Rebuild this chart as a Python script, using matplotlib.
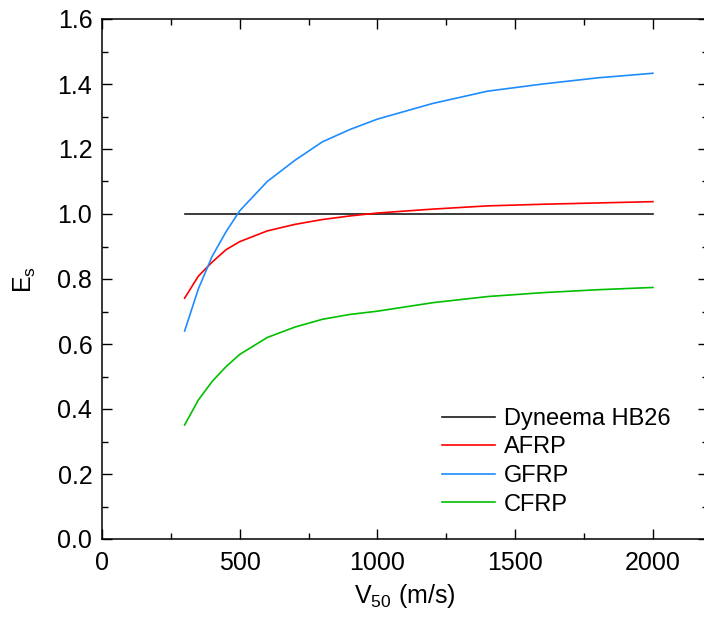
import matplotlib
matplotlib.use("Agg")
import matplotlib.pyplot as plt
from matplotlib.ticker import MultipleLocator, FormatStrFormatter

plt.rcParams['font.family'] = ['Liberation Sans', 'DejaVu Sans']
plt.rcParams['mathtext.fontset'] = 'custom'
plt.rcParams['mathtext.rm'] = 'Liberation Sans'
plt.rcParams['mathtext.it'] = 'Liberation Sans'

v50 = [300, 350, 400, 450, 500, 600, 700, 800, 900, 1000, 1200, 1400, 1600, 1800, 2000]
dyneema = [1.0] * len(v50)
afrp = [0.741, 0.809, 0.852, 0.890, 0.915, 0.948, 0.968, 0.983, 0.994, 1.003, 1.015, 1.025, 1.030, 1.034, 1.038]
gfrp = [0.640, 0.770, 0.870, 0.945, 1.010, 1.100, 1.165, 1.222, 1.260, 1.292, 1.340, 1.378, 1.400, 1.419, 1.433]
cfrp = [0.351, 0.428, 0.485, 0.530, 0.568, 0.620, 0.652, 0.676, 0.691, 0.701, 0.727, 0.746, 0.758, 0.767, 0.774]

fig = plt.figure(figsize=(7.04, 6.17), dpi=100)
W, H = 704, 617
ax = fig.add_axes([102 / W, (H - 539) / H, (708 - 102) / W, (539 - 19) / H])

lw = 1.2
ax.plot(v50, dyneema, color='#1a1a1a', lw=lw, label='Dyneema HB26')
ax.plot(v50, afrp, color='#ff0000', lw=lw, label='AFRP')
ax.plot(v50, gfrp, color='#1e8cff', lw=lw, label='GFRP')
ax.plot(v50, cfrp, color='#00c000', lw=lw, label='CFRP')

ax.set_xlim(0, 2200)
ax.set_ylim(0, 1.6)
ax.xaxis.set_major_locator(MultipleLocator(500))
ax.xaxis.set_minor_locator(MultipleLocator(250))
ax.yaxis.set_major_locator(MultipleLocator(0.2))
ax.yaxis.set_minor_locator(MultipleLocator(0.1))
ax.yaxis.set_major_formatter(FormatStrFormatter('%.1f'))
ax.tick_params(which='both', direction='in', top=True, right=True, labelsize=18, width=1)
ax.tick_params(which='major', length=7)
ax.tick_params(which='minor', length=4)
ax.tick_params(axis='y', which='major', pad=7)
ax.tick_params(axis='x', which='major', pad=9)
for s in ax.spines.values():
    s.set_linewidth(1.1)
ax.spines['right'].set_visible(False)

ax.set_xlabel('V$_{50}$ (m/s)', fontsize=18, labelpad=5)
ax.set_ylabel('E$_s$', fontsize=18, labelpad=14)

ax.legend(loc='lower right', bbox_to_anchor=(0.965, 0.013), frameon=False,
          fontsize=17, handlelength=2.25, handletextpad=0.35, labelspacing=0.28,
          borderaxespad=0.3)

fig.savefig('out.png', dpi=100)
